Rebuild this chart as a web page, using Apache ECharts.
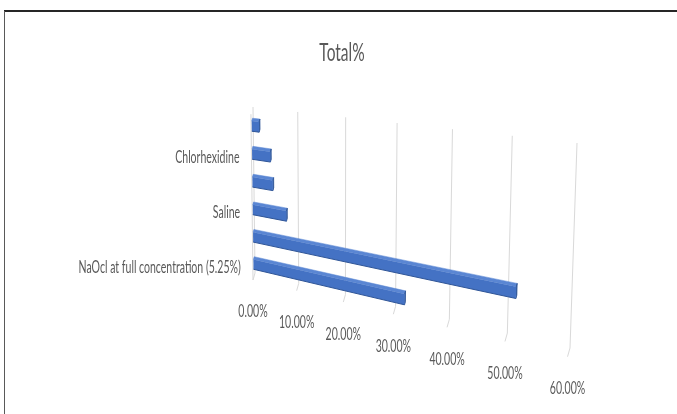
<!DOCTYPE html>
<html>
<head>
<meta charset="utf-8">
<title>Total%</title>
<script src="https://cdn.jsdelivr.net/npm/echarts@6/dist/echarts.min.js"></script>
<style>
  html, body { margin: 0; padding: 0; background: #ffffff; }
  #chart { width: 677px; height: 414px; }
</style>
</head>
<body>
<div id="chart"></div>
<script>
// Categories run from the front (bottom) row to the back (top) row.
// Only every other row carries a printed name.
const categories = [
  'NaOcl at full concentration (5.25%)',
  '',
  'Saline',
  '',
  'Chlorhexidine',
  ''
];
const totals = [0.32, 0.515, 0.077, 0.047, 0.042, 0.017];
const valueTicks = [0, 0.1, 0.2, 0.3, 0.4, 0.5, 0.6];
const tickLabels = ['0.00%', '10.00%', '20.00%', '30.00%', '40.00%', '50.00%', '60.00%'];
const chartTitle = 'Total%';

// Perspective view of the 3-D plot box.
// X: value (0..1 across the axis), Y: height (0 floor .. 1 top),
// Z: depth (0 back wall .. 1 front edge of the floor).
const VIEW = {
  a1: 204.2, a2: -7.965, a3: 255, a4: -2,
  b1: 7.35, b2: -168.52, b3: 273, b4: 7,
  g: -0.1944, h: -0.023578, k: 0
};
function P(X, Y, Z) {
  const v = VIEW;
  const w = 1 + v.g * X + v.h * Y + v.k * Z;
  return [
    (v.a1 * X + v.a2 * Y + v.a4 * Z + v.a3) / w,
    (v.b1 * X + v.b2 * Y + v.b4 * Z + v.b3) / w
  ];
}
// The hidden flat grid's scales place (value, category); that spot is then
// normalised to unit plot-box coordinates.
function unit(pt, cs) {
  return [(pt[0] - cs.x) / cs.width, 1 - (pt[1] - cs.y) / cs.height];
}

const FONT = 'Lato, "Open Sans", "Liberation Sans", sans-serif';
const SQUEEZE = 0.62;          // horizontal squeeze of all text
const TEXT = '#595959';
const GRID = '#d9d9d9';
const BAR_FRONT = '#4472c4';
const BAR_TOP = '#5a86d3';
const BAR_END = '#2f5597';
const BAR_FRAC = 0.36;         // bar thickness as a share of the category band
const BAR_DEPTH = 0.4;         // bar depth as a share of the box depth

const chart = echarts.init(document.getElementById('chart'), null, { renderer: 'canvas' });

const option = {
  backgroundColor: '#ffffff',
  animation: false,
  grid: { left: 20, top: 20, width: 600, height: 360, show: false, containLabel: false },
  xAxis: { type: 'value', min: 0, max: 0.6, show: false },
  yAxis: { type: 'category', data: categories, show: false },
  graphic: [
    { type: 'line', shape: { x1: 4, y1: 11, x2: 700, y2: 11 }, style: { stroke: '#262626', lineWidth: 2 } },
    { type: 'line', shape: { x1: 4.5, y1: 11, x2: 4.5, y2: 420 }, style: { stroke: '#595959', lineWidth: 1 } },
    {
      type: 'text', x: 342, y: 53, scaleX: SQUEEZE,
      style: { text: chartTitle, fontFamily: FONT, fontSize: 25, fill: TEXT, align: 'center', verticalAlign: 'middle' }
    }
  ],
  series: [
    {
      // value gridlines on the back wall and floor, with their tick labels
      type: 'custom',
      name: 'valueAxis',
      coordinateSystem: 'cartesian2d',
      silent: true,
      data: valueTicks.map(function (t, i) { return [t, 0, i]; }),
      renderItem: function (params, api) {
        const cs = params.coordSys;
        const X = unit(api.coord([api.value(0), 0]), cs)[0];
        const i = api.value(2);
        const top = P(X, 1, 0), base = P(X, 0, 0), front = P(X, 0, 1);
        return {
          type: 'group',
          children: [
            { type: 'line', shape: { x1: top[0], y1: top[1], x2: base[0], y2: base[1] }, style: { stroke: GRID, lineWidth: 1 } },
            { type: 'line', shape: { x1: base[0], y1: base[1], x2: front[0], y2: front[1] }, style: { stroke: GRID, lineWidth: 1 } },
            {
              type: 'text', x: front[0], y: front[1] + 32, scaleX: SQUEEZE,
              style: { text: tickLabels[i], fontFamily: FONT, fontSize: 17, fill: TEXT, align: 'center', verticalAlign: 'middle' }
            }
          ]
        };
      }
    },
    {
      // category axis edge and its printed names
      type: 'custom',
      name: 'categoryAxis',
      coordinateSystem: 'cartesian2d',
      silent: true,
      data: categories.map(function (c, i) { return [0, i]; }),
      renderItem: function (params, api) {
        const cs = params.coordSys;
        const ci = api.value(1);
        const Yc = unit(api.coord([0, ci]), cs)[1];
        const children = [];
        if (params.dataIndex === 0) {
          const a = P(0, 1, 1), b = P(0, 0, 1);
          children.push({ type: 'line', shape: { x1: a[0], y1: a[1], x2: b[0], y2: b[1] }, style: { stroke: GRID, lineWidth: 1 } });
        }
        const name = categories[ci];
        if (name) {
          const p = P(0, Yc, 1);
          children.push({
            type: 'text', x: p[0] - 12, y: p[1] + 1, scaleX: SQUEEZE,
            style: { text: name, fontFamily: FONT, fontSize: 17, fill: TEXT, align: 'right', verticalAlign: 'middle' }
          });
        }
        return { type: 'group', children: children };
      }
    },
    {
      // the 3-D bars
      type: 'custom',
      name: 'Total%',
      coordinateSystem: 'cartesian2d',
      data: totals.map(function (v, i) { return [v, i]; }),
      renderItem: function (params, api) {
        const cs = params.coordSys;
        const ci = api.value(1);
        const end = unit(api.coord([api.value(0), ci]), cs);
        const X1 = end[0], Yc = end[1];
        const X0 = unit(api.coord([0, ci]), cs)[0];
        const hh = api.size([0, 1])[1] / cs.height * BAR_FRAC / 2;
        const zb = 0.5 - BAR_DEPTH / 2, zf = 0.5 + BAR_DEPTH / 2;
        const yt = Yc + hh, yb = Yc - hh;
        const front = [P(X0, yt, zf), P(X1, yt, zf), P(X1, yb, zf), P(X0, yb, zf)];
        const topFace = [P(X0, yt, zb), P(X1, yt, zb), P(X1, yt, zf), P(X0, yt, zf)];
        const endFace = [P(X1, yt, zb), P(X1, yb, zb), P(X1, yb, zf), P(X1, yt, zf)];
        return {
          type: 'group',
          children: [
            { type: 'polygon', shape: { points: topFace }, style: { fill: BAR_TOP, stroke: BAR_TOP, lineWidth: 0.5 } },
            { type: 'polygon', shape: { points: endFace }, style: { fill: BAR_END, stroke: BAR_END, lineWidth: 0.8 } },
            { type: 'polygon', shape: { points: front }, style: { fill: BAR_FRONT } },
            {
              type: 'line',
              shape: { x1: front[3][0], y1: front[3][1], x2: front[2][0], y2: front[2][1] },
              style: { stroke: BAR_END, lineWidth: 1 }
            }
          ]
        };
      }
    }
  ]
};

chart.setOption(option);
</script>
</body>
</html>
